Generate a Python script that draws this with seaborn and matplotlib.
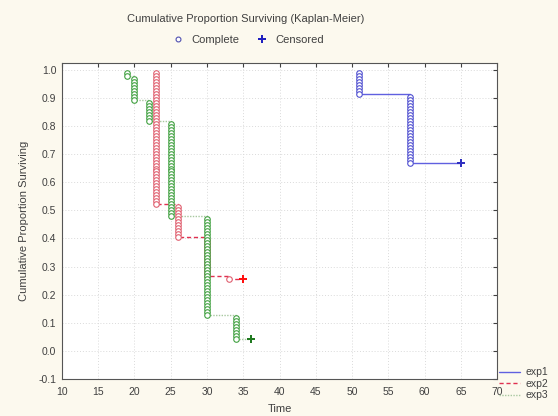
import numpy as np
import pandas as pd
import matplotlib
matplotlib.use("Agg")
import matplotlib.pyplot as plt
from matplotlib.lines import Line2D
import seaborn as sns

# ── Data ─────────────────────────────────────────────────────────────────────
n_subjects = 94
groups = ["exp1", "exp2", "exp3"]
event_times = {
    "exp1": [51, 58],
    "exp2": [23, 26, 30, 33],
    "exp3": [19, 20, 22, 25, 30, 34],
}
deaths = {
    "exp1": [8, 23],
    "exp2": [45, 11, 13, 1],
    "exp3": [2, 8, 7, 32, 33, 8],
}
censor_time = {"exp1": 65, "exp2": 35, "exp3": 36}

marker_colors = {"exp1": "#5050d0", "exp2": "#e06070", "exp3": "#40a040"}
cens_colors = {"exp1": "#3030c0", "exp2": "#ff1010", "exp3": "#207a20"}
line_colors = {"exp1": "#6060e0", "exp2": "#e03050", "exp3": "#a8c8a0"}
styles = {"exp1": "-", "exp2": (0, (3, 2)), "exp3": (0, (1, 1))}

# ── Kaplan-Meier steps: one point per case ───────────────────────────────────
rows = []
for g in groups:
    at_risk = n_subjects
    surv = 1.0
    for t, d in zip(event_times[g], deaths[g]):
        for _ in range(d):
            surv *= (at_risk - 1) / at_risk
            at_risk -= 1
            rows.append({"group": g, "time": t, "surv": surv, "kind": "complete"})
    rows.append({"group": g, "time": censor_time[g], "surv": surv, "kind": "censored"})
df = pd.DataFrame(rows)

# ── Plot ─────────────────────────────────────────────────────────────────────
sns.set_style("white")
plt.rcParams["font.family"] = ["Liberation Sans", "DejaVu Sans"]

fig = plt.figure(figsize=(5.58, 4.16), dpi=100, facecolor="#fcf9ee")
ax = fig.add_axes([0.111, 0.089, 0.78, 0.760])
ax.set_facecolor("white")

for g in groups:
    sub = df[df.group == g]
    sns.lineplot(data=sub, x="time", y="surv", estimator=None, sort=False,
                 drawstyle="steps-post", color=line_colors[g], linestyle=styles[g],
                 linewidth=1.0, ax=ax, legend=False)
    comp = sub[sub.kind == "complete"]
    ax.scatter(comp.time, comp.surv, s=16, facecolors="white",
               edgecolors=marker_colors[g], linewidths=0.8, zorder=3)
    cens = sub[sub.kind == "censored"]
    ax.scatter(cens.time, cens.surv, s=26, marker="P", color=cens_colors[g],
               linewidths=0, zorder=4)

ax.set_xlim(10, 70)
ax.set_ylim(-0.1, 1.025)
ax.set_xticks(np.arange(10, 71, 5))
yt = np.round(np.arange(-0.1, 1.01, 0.1), 1)
ax.set_yticks(yt)
ax.set_yticklabels([f"{v:.1f}" for v in yt])
ax.grid(True, color="#dadada", linestyle=(0, (1, 2)), linewidth=0.7)
ax.tick_params(direction="in", length=3, labelsize=7.5, colors="#404040",
               top=True, right=True, pad=4)
ax.tick_params(axis="x", pad=6)
for s in ax.spines.values():
    s.set_color("#555555")
    s.set_linewidth(0.8)
ax.set_xlabel("Time", fontsize=8, color="#404040", labelpad=5)
ax.set_ylabel("Cumulative Proportion Surviving", fontsize=8, color="#404040", labelpad=7)

fig.text(0.44, 0.955, "Cumulative Proportion Surviving (Kaplan-Meier)",
         ha="center", va="center", fontsize=8, color="#404040")

top_handles = [
    Line2D([], [], linestyle="none", marker="o", markersize=3.5,
           markerfacecolor="white", markeredgecolor="#5050b0", markeredgewidth=0.8),
    Line2D([], [], linestyle="none", marker="P", markersize=6,
           color="#2020c0", markeredgewidth=0),
]
fig.legend(top_handles, ["Complete", "Censored"], loc="center",
           bbox_to_anchor=(0.44, 0.905), ncol=2, frameon=False, fontsize=8,
           handletextpad=0.2, columnspacing=1.0, labelcolor="#404040")

side_handles = [Line2D([], [], color=line_colors[g], linestyle=styles[g], linewidth=1.0)
                for g in groups]
fig.legend(side_handles, groups, loc="lower right", bbox_to_anchor=(1.0, 0.015),
           frameon=False, fontsize=7.5, handlelength=2.0, handletextpad=0.6,
           labelspacing=0.15, labelcolor="#404040")

fig.savefig("out.png", dpi=100, facecolor=fig.get_facecolor())
